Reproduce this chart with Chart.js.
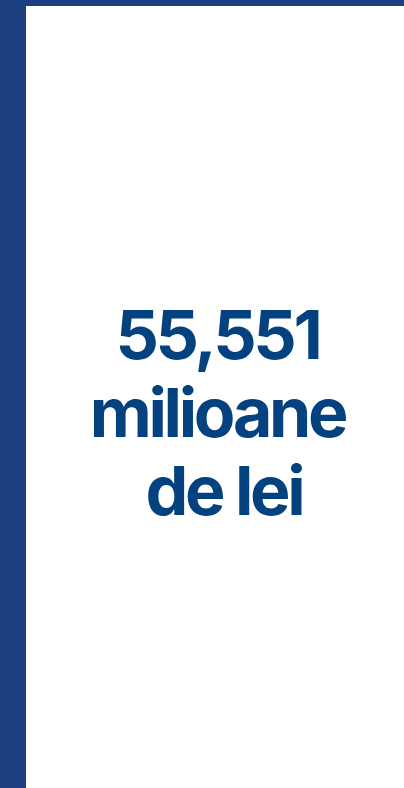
<!DOCTYPE html>
<html>
<head>
<meta charset="utf-8">
<script src="https://cdn.jsdelivr.net/npm/chart.js@4"></script>
<style>
  html, body { margin: 0; padding: 0; background: #fff; }
  .frame {
    width: 378px; height: 782px;
    border-left: 26px solid #1b3f80;
    border-top: 6px solid #1b3f80;
  }
  canvas { display: block; }
</style>
</head>
<body>
<div class="frame"><canvas id="myChart"></canvas></div>
<script>
const values = ['55,551'];
const unitLines = ['milioane', ' de lei'];

const bigNumber = {
  id: 'bigNumber',
  afterDraw(chart) {
    const ctx = chart.ctx;
    const cx = chart.width / 2 + 2.5;
    const cy = chart.height / 2;
    const lines = [values[0]].concat(unitLines);
    ctx.save();
    ctx.fillStyle = '#03417f';
    ctx.font = 'bold 68px Inter';
    ctx.letterSpacing = '-3.3px';
    ctx.textAlign = 'center';
    ctx.textBaseline = 'alphabetic';
    lines.forEach((t, i) => {
      ctx.fillText(t, cx, cy - 38 + i * 78);
    });
    ctx.restore();
  }
};

const ctx = document.getElementById('myChart').getContext('2d');
ctx.canvas.width  = 378;
ctx.canvas.height = 782;
const myChart = new Chart(ctx, {
    type: 'bar',
    data: {
        labels: ['Total'],
        datasets: [{
            label: 'milioane de lei',
            data: [],
            backgroundColor: 'rgba(0,0,0,0)'
        }]
    },
    options: {
        responsive: false,
        animation: false,
        scales: {
          x: { display: false },
          y: { display: false }
        },
        plugins: {
          legend: { display: false },
          tooltip: { enabled: false }
        }
    },
    plugins: [bigNumber]
});
</script>
</body>
</html>
